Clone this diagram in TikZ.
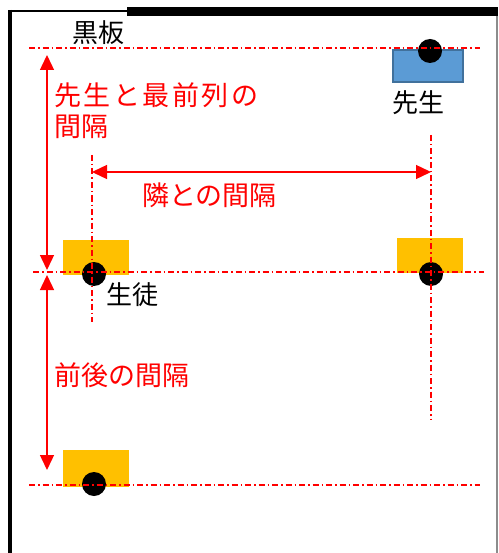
\documentclass[tikz,border=0pt]{standalone}
\usepackage{fontspec}
\newfontfamily\jpfont{Noto Sans CJK JP}
\usetikzlibrary{arrows.meta}
\definecolor{deskorange}{HTML}{FFC000}
\definecolor{deskblue}{HTML}{5B9BD5}
\definecolor{deskblueline}{HTML}{41719C}
\definecolor{lineRed}{HTML}{FF0000}
\newcommand{\gapk}{\kern2.5pt}
\tikzset{
  guide/.style={draw=lineRed, line width=1.3pt, dash pattern=on 6pt off 3pt on 1.5pt off 3pt},
  dimarrow/.style={draw=lineRed, line width=1.4pt, {Triangle[length=15pt,width=14pt]}-{Triangle[length=15pt,width=14pt]}},
  desk/.style={fill=deskorange, draw=none},
  tdesk/.style={fill=deskblue, draw=deskblueline, line width=1.5pt},
  head/.style={circle, fill=black, minimum size=24pt, inner sep=0pt},
  blacklabel/.style={anchor=west, inner sep=0pt, font=\jpfont\fontsize{26pt}{30pt}\selectfont, text=black},
  redlabel/.style={anchor=west, inner sep=0pt, font=\jpfont\fontsize{27pt}{31pt}\selectfont, text=lineRed},
}
\begin{document}
\begin{tikzpicture}[x=1pt, y=-1pt]
\useasboundingbox (0,0) rectangle (498,553);
\fill[white] (0,0) rectangle (498,553);
% frame
\draw[line width=4pt] (10,10) -- (10,553);
\draw[line width=1.5pt] (8,11) -- (127,11);
\fill[black] (127,7) rectangle (498,16);
\draw[line width=1.5pt, black!45] (497,16) -- (497,553);
% desks
\path[tdesk] (393,50) rectangle (463,82);
\path[desk] (63,240) rectangle (129,275);
\path[desk] (397,238) rectangle (463,273);
\path[desk] (63,450) rectangle (129,487);
% heads
\node[head] (teacher) at (430,51) {};
\node[head] (s1) at (94,274) {};
\node[head] (s2) at (431,274) {};
\node[head] (s3) at (94,484) {};
% guide lines
\coordinate (gTopL) at (29,48);  \coordinate (gTopR) at (480,48);
\coordinate (gMidL) at (33,272); \coordinate (gMidR) at (484,272);
\coordinate (gBotL) at (29,485); \coordinate (gBotR) at (480,485);
\coordinate (gVLt) at (92,155);  \coordinate (gVLb) at (92,322);
\coordinate (gVRt) at (431,135); \coordinate (gVRb) at (431,420);
\draw[guide] (gTopL) -- (gTopR);
\draw[guide] (gMidL) -- (gMidR);
\draw[guide] (gBotL) -- (gBotR);
\draw[guide] (gVLt) -- (gVLb);
\draw[guide] (gVRt) -- (gVRb);
% dimension arrows
\coordinate (a1t) at (47,55);  \coordinate (a1b) at (47,270);
\coordinate (a2t) at (47,275); \coordinate (a2b) at (47,470);
\coordinate (a3l) at (92,172); \coordinate (a3r) at (431,172);
\draw[dimarrow] (a1t) -- (a1b);
\draw[dimarrow] (a2t) -- (a2b);
\draw[dimarrow] (a3l) -- (a3r);
% labels
\node[blacklabel] (kokuban) at (72,33) {黒板};
\node[blacklabel] (sensei) at (392,103) {先生};
\node[blacklabel] (seito) at (106,295) {生徒};
\node[redlabel] (l1a) at (54,95) {先\gapk 生\gapk と\gapk 最\gapk 前\gapk 列\gapk の};
\node[redlabel] (l1b) at (54,127) {間隔};
\node[redlabel] (l2) at (142,195) {隣との間隔};
\node[redlabel] (l3) at (54,375) {前後の間隔};
\end{tikzpicture}
\end{document}
